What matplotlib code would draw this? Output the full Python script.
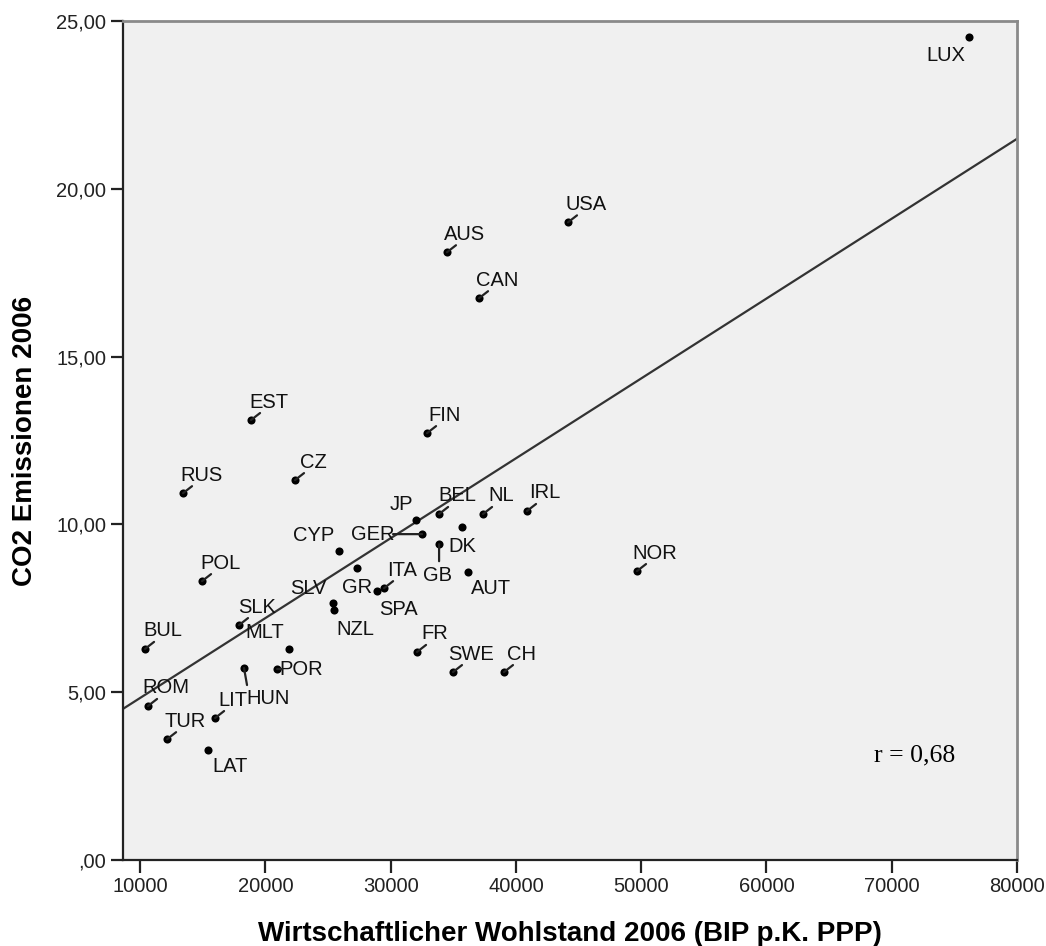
import numpy as np
import matplotlib
matplotlib.use("Agg")
from matplotlib import pyplot as plt

# country codes, GDP per capita (PPP) 2006 and CO2 emissions per capita 2006
countries = ["LUX", "USA", "AUS", "CAN", "EST", "FIN", "CZ", "RUS", "JP", "BEL",
             "NL", "IRL", "GER", "CYP", "DK", "GB", "AUT", "NOR", "GR", "ITA",
             "SPA", "SLV", "NZL", "FR", "SWE", "CH", "POL", "SLK", "BUL", "MLT",
             "POR", "HUN", "ROM", "LIT", "TUR", "LAT"]
gdp = [76170, 44160, 34500, 37060, 18860, 32910, 22370, 13430, 32030, 33870,
       37380, 40890, 32510, 25880, 35700, 33870, 36180, 49670, 27320, 29480,
       28920, 25400, 25480, 32110, 34980, 39050, 14950, 17900, 10400, 21890,
       20940, 18300, 10640, 15990, 12160, 15430]
co2 = [24.52, 19.00, 18.11, 16.74, 13.11, 12.72, 11.32, 10.93, 10.13, 10.31,
       10.31, 10.40, 9.71, 9.20, 9.92, 9.41, 8.58, 8.61, 8.70, 8.10,
       8.01, 7.66, 7.45, 6.20, 5.60, 5.60, 8.31, 7.00, 6.29, 6.29,
       5.69, 5.72, 4.59, 4.23, 3.60, 3.28]

# label placement (pixel offsets of the label centre from the point)
label_off = {"LUX": (-23, -18), "JP": (-15, 16), "GER": (-49, 0), "CYP": (-25, 16),
             "DK": (0, -19), "GB": (-2, -31), "AUT": (23, -16), "GR": (0, -19),
             "SPA": (21, -18), "SLV": (-25, 14), "NZL": (21, -20), "MLT": (-24, 16),
             "POR": (24, 0), "HUN": (24, -30), "LAT": (22, -17)}
# leader line end offsets, pixels
leader = {"GER": (-29, 0), "GB": (0, -17), "HUN": (3, -17), "POR": (5, 0)}
no_leader = ["LUX", "JP", "CYP", "DK", "AUT", "GR", "SPA", "SLV", "NZL", "MLT", "LAT"]

plt.rcParams["font.family"] = "Liberation Sans"

fig = plt.figure(figsize=(10.46, 9.46), dpi=100)
ax = fig.add_axes([123/1046, 86/946, 894/1046, 839/946])
ax.set_facecolor("#f0f0f0")

ax.scatter(gdp, co2, s=34, color="black", zorder=3, linewidths=0)

for c, x, y in zip(countries, gdp, co2):
    dx, dy = label_off.get(c, (18, 18))
    ax.annotate(c, (x, y), xytext=(dx, dy), textcoords="offset pixels",
                ha="center", va="center", fontsize=14.5, color="#111111")
    if c in no_leader:
        continue
    lx, ly = leader.get(c, (9, 7))
    ax.annotate("", (x, y), xytext=(lx, ly), textcoords="offset pixels",
                arrowprops=dict(arrowstyle="-", shrinkA=0, shrinkB=0,
                                lw=1.6, color="#222222"))

# linear fit
m, b = np.polyfit(gdp, co2, 1)
xs = np.array([8640, 80000])
ax.plot(xs, m * xs + b, color="#333333", lw=1.6, zorder=2)

ax.set_xlim(8640, 80000)
ax.set_ylim(0, 25)
ax.set_xticks(range(10000, 80001, 10000))
ax.set_yticks([0, 5, 10, 15, 20, 25])
ax.set_yticklabels([",00", "5,00", "10,00", "15,00", "20,00", "25,00"])
ax.tick_params(direction="out", length=9, width=1.6, labelsize=14.5,
               colors="#222222", pad=3)

for side in ["left", "bottom"]:
    ax.spines[side].set_color("#222222")
    ax.spines[side].set_linewidth(1.6)
for side in ["top", "right"]:
    ax.spines[side].set_color("#8a8a8a")
    ax.spines[side].set_linewidth(2)

ax.set_xlabel("Wirtschaftlicher Wohlstand 2006 (BIP p.K. PPP)", fontsize=20,
              fontweight="bold", labelpad=18)
ax.set_ylabel("CO2 Emissionen 2006", fontsize=20, fontweight="bold", labelpad=13)

ax.text(0.885, 0.125, "r = 0,68", transform=ax.transAxes, ha="center", va="center",
        fontsize=18.5, family="Liberation Serif")

fig.savefig("out.png", dpi=100)
